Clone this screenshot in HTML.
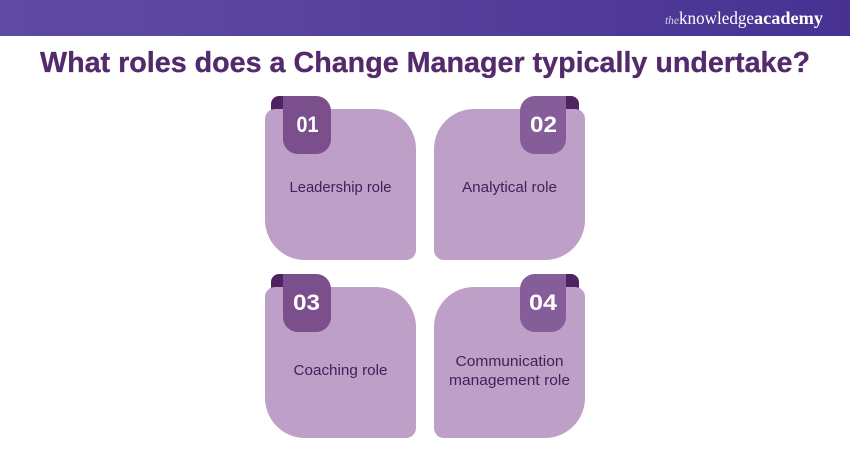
<!DOCTYPE html>
<html lang="en">
<head>
<meta charset="utf-8">
<title>What roles does a Change Manager typically undertake?</title>
<style>
html,body{margin:0;padding:0;background:#fff;width:850px;height:450px;overflow:hidden}
svg{display:block}
text{font-family:"Liberation Sans",sans-serif}
</style>
</head>
<body>
<svg width="850" height="450" viewBox="0 0 850 450" xmlns="http://www.w3.org/2000/svg">
<defs>
<linearGradient id="hdr" x1="0" x2="1" y1="0" y2="0">
<stop offset="0" stop-color="#5f4aa3"/>
<stop offset="0.5" stop-color="#55409c"/>
<stop offset="1" stop-color="#473192"/>
</linearGradient>
</defs>
<rect width="850" height="36" fill="url(#hdr)"/>
<text x="665" y="24" font-size="12" font-style="italic" fill="#d9d3ea" style="font-family:'Liberation Serif',serif" textLength="14" lengthAdjust="spacingAndGlyphs">the</text>
<text x="679" y="24" font-size="18" fill="#ffffff" style="font-family:'Liberation Serif',serif" textLength="75" lengthAdjust="spacingAndGlyphs">knowledge</text>
<text x="754" y="24" font-size="18" font-weight="bold" fill="#ffffff" style="font-family:'Liberation Serif',serif" textLength="69" lengthAdjust="spacingAndGlyphs">academy</text>

<text x="40" y="72" font-size="29" font-weight="bold" fill="#532a6c" stroke="#532a6c" stroke-width="0.3" textLength="770" lengthAdjust="spacingAndGlyphs">What roles does a Change Manager typically undertake?</text>

<!-- Card 1 -->
<path d="M271 112V104a8 8 0 0 1 8-8h10v20h-18z" fill="#4f2260"/>
<path d="M275 109H376a40 40 0 0 1 40 40V250a10 10 0 0 1-10 10H305a40 40 0 0 1-40-40V119a10 10 0 0 1 10-10z" fill="#bd9fc8"/>
<path d="M283 96H316a15 15 0 0 1 15 15V139a15 15 0 0 1-15 15H298a15 15 0 0 1-15-15z" fill="#7a4f8c"/>
<text x="307.500" y="132" font-size="22" font-weight="bold" fill="#fff" text-anchor="middle" textLength="22" lengthAdjust="spacingAndGlyphs">01</text>
<text x="340.500" y="192" font-size="14.500" fill="#43205a" text-anchor="middle" textLength="102" lengthAdjust="spacingAndGlyphs">Leadership role</text>

<!-- Card 2 -->
<path d="M579 112V104a8 8 0 0 0-8-8h-10v20h18z" fill="#4f2260"/>
<path d="M474 109H575a10 10 0 0 1 10 10V220a40 40 0 0 1-40 40H444a10 10 0 0 1-10-10V149a40 40 0 0 1 40-40z" fill="#bd9fc8"/>
<path d="M566 96H535a15 15 0 0 0-15 15V139a15 15 0 0 0 15 15H551a15 15 0 0 0 15-15z" fill="#855d99"/>
<text x="543.500" y="132" font-size="22" font-weight="bold" fill="#fff" text-anchor="middle" textLength="27" lengthAdjust="spacingAndGlyphs">02</text>
<text x="509.500" y="192" font-size="14.500" fill="#43205a" text-anchor="middle" textLength="95" lengthAdjust="spacingAndGlyphs">Analytical role</text>

<!-- Card 3 -->
<path d="M271 290V282a8 8 0 0 1 8-8h10v20h-18z" fill="#4f2260"/>
<path d="M275 287H376a40 40 0 0 1 40 40V428a10 10 0 0 1-10 10H305a40 40 0 0 1-40-40V297a10 10 0 0 1 10-10z" fill="#bd9fc8"/>
<path d="M283 274H316a15 15 0 0 1 15 15V317a15 15 0 0 1-15 15H298a15 15 0 0 1-15-15z" fill="#7a4f8c"/>
<text x="306.500" y="310" font-size="22" font-weight="bold" fill="#fff" text-anchor="middle" textLength="27" lengthAdjust="spacingAndGlyphs">03</text>
<text x="340.500" y="375" font-size="14.500" fill="#43205a" text-anchor="middle" textLength="94" lengthAdjust="spacingAndGlyphs">Coaching role</text>

<!-- Card 4 -->
<path d="M579 290V282a8 8 0 0 0-8-8h-10v20h18z" fill="#4f2260"/>
<path d="M474 287H575a10 10 0 0 1 10 10V398a40 40 0 0 1-40 40H444a10 10 0 0 1-10-10V327a40 40 0 0 1 40-40z" fill="#bd9fc8"/>
<path d="M566 274H535a15 15 0 0 0-15 15V317a15 15 0 0 0 15 15H551a15 15 0 0 0 15-15z" fill="#855d99"/>
<text x="543" y="310" font-size="22" font-weight="bold" fill="#fff" text-anchor="middle" textLength="28" lengthAdjust="spacingAndGlyphs">04</text>
<text x="509.500" y="366" font-size="14.500" fill="#43205a" text-anchor="middle" textLength="108" lengthAdjust="spacingAndGlyphs">Communication</text>
<text x="509.500" y="385" font-size="14.500" fill="#43205a" text-anchor="middle" textLength="121" lengthAdjust="spacingAndGlyphs">management role</text>
</svg>
</body>
</html>
